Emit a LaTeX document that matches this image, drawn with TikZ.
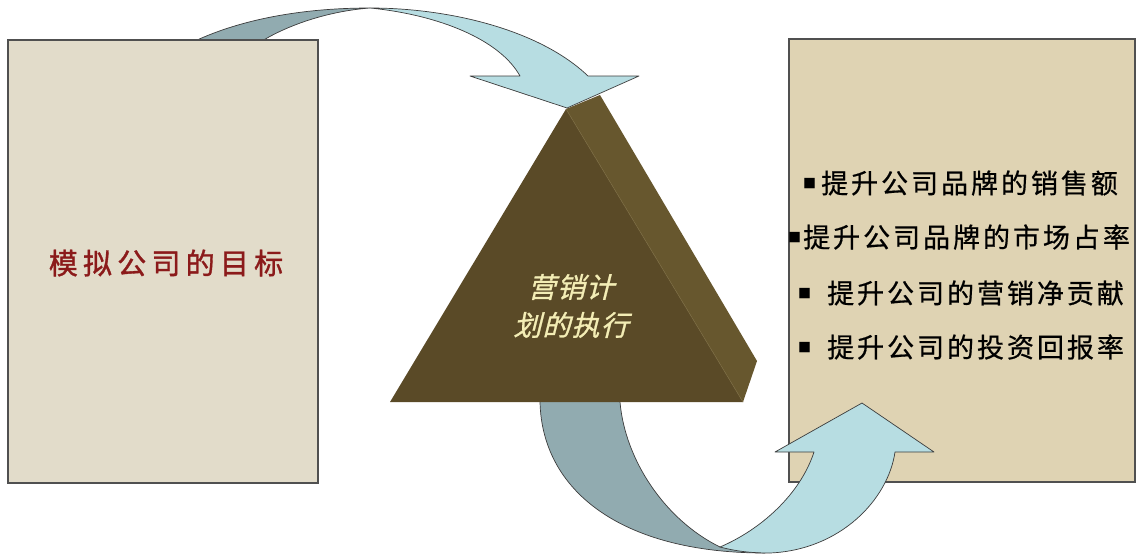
\documentclass[tikz,border=0pt]{standalone}
\usepackage{fontspec}
\newfontfamily\cjk{Noto Sans CJK SC}
\newfontfamily\cjkgoal[LetterSpace=18,FakeBold=1.2]{Noto Sans CJK SC}
\newfontfamily\cjklist[LetterSpace=11,FakeBold=0.6]{Noto Sans CJK SC}
\newfontfamily\cjkslant[FakeSlant=0.25,LetterSpace=4,FakeBold=1]{Noto Sans CJK SC}
\definecolor{leftfill}{HTML}{E2DCCA}
\definecolor{rightfill}{HTML}{DFD3B3}
\definecolor{boxline}{HTML}{505050}
\definecolor{trifront}{HTML}{5A4A27}
\definecolor{triside}{HTML}{67572E}
\definecolor{triedge}{HTML}{7A6A40}
\definecolor{arrlight}{HTML}{B7DDE2}
\definecolor{arrdark}{HTML}{91ABB0}
\definecolor{arrline}{HTML}{3C3C3C}
\definecolor{goalred}{HTML}{8B1A1A}
\definecolor{cream}{HTML}{F3EDB5}
\newcommand{\bul}[1]{\makebox[#1][l]{\raisebox{5pt}{\fontsize{13}{13}\selectfont\cjk ■}}}
\begin{document}
\begin{tikzpicture}[x=1pt,y=-1pt,
  boxstyle/.style={draw=boxline, line width=1.4pt, inner sep=0pt},
  ribbon/.style={draw=arrline, line width=0.7pt, line join=round},
  listtext/.style={anchor=west, inner sep=0pt, text=black, font=\fontsize{27}{27}\selectfont\cjklist}]
\useasboundingbox (0,0) rectangle (1144,557);

% top arrow, back (dark) ribbon
\path[ribbon, fill=arrdark] (195,41) .. controls (240,20) and (300,8) .. (370,8)
  .. controls (330,11) and (290,24) .. (262,41) -- cycle;

% left box
\node[boxstyle, fill=leftfill, minimum width=310pt, minimum height=443pt] (goal) at (163,261.5) {};
\node[inner sep=0pt, text=goalred, font=\fontsize{29}{29}\selectfont\cjkgoal] (goaltext) at (166,263) {模拟公司的目标};

% bottom arrow, back (dark) ribbon
\path[ribbon, fill=arrdark] (540,398) -- (540,402) .. controls (542,490) and (620,553) .. (765,553)
  -- (720,547) .. controls (665,520) and (625,460) .. (620,402) -- (620,398) -- cycle;

% triangle
\fill[triside] (566,109) -- (600,95) -- (757,361) -- (743,402) -- cycle;
\fill[trifront] (566,109) -- (390,402) -- (743,402) -- cycle;
\draw[triedge, line width=0.6pt] (566,109) -- (743,402);
\node[inner sep=0pt, text=cream, align=center, font=\fontsize{28}{38}\selectfont\cjkslant] (plan) at (571,306) {营销计\\划的执行};

% top arrow, front (light) ribbon with head
\path[ribbon, fill=arrlight] (370,8) .. controls (450,8) and (540,30) .. (588,76)
  -- (639,76) -- (567,108) -- (470,76) -- (520,76)
  .. controls (500,40) and (440,15) .. (370,8) -- cycle;

% right box
\node[boxstyle, fill=rightfill, minimum width=346pt, minimum height=443pt] (results) at (962,260.5) {};

% bottom arrow, front (light) ribbon with head
\path[ribbon, fill=arrlight] (720,547) .. controls (760,530) and (800,495) .. (814,452)
  -- (775,452) -- (862,403) -- (934,452) -- (895,452)
  .. controls (888,500) and (840,550) .. (770,553)
  .. controls (750,553) and (735,551) .. (720,547) -- cycle;

% right box list
\node[listtext] (r1) at (803,183) {\bul{18pt}提升公司品牌的销售额};
\node[listtext] (r2) at (788,237) {\bul{15pt}提升公司品牌的市场占率};
\node[listtext] (r3) at (798,293) {\bul{29pt}提升公司的营销净贡献};
\node[listtext] (r4) at (798,347) {\bul{29pt}提升公司的投资回报率};
\end{tikzpicture}
\end{document}
